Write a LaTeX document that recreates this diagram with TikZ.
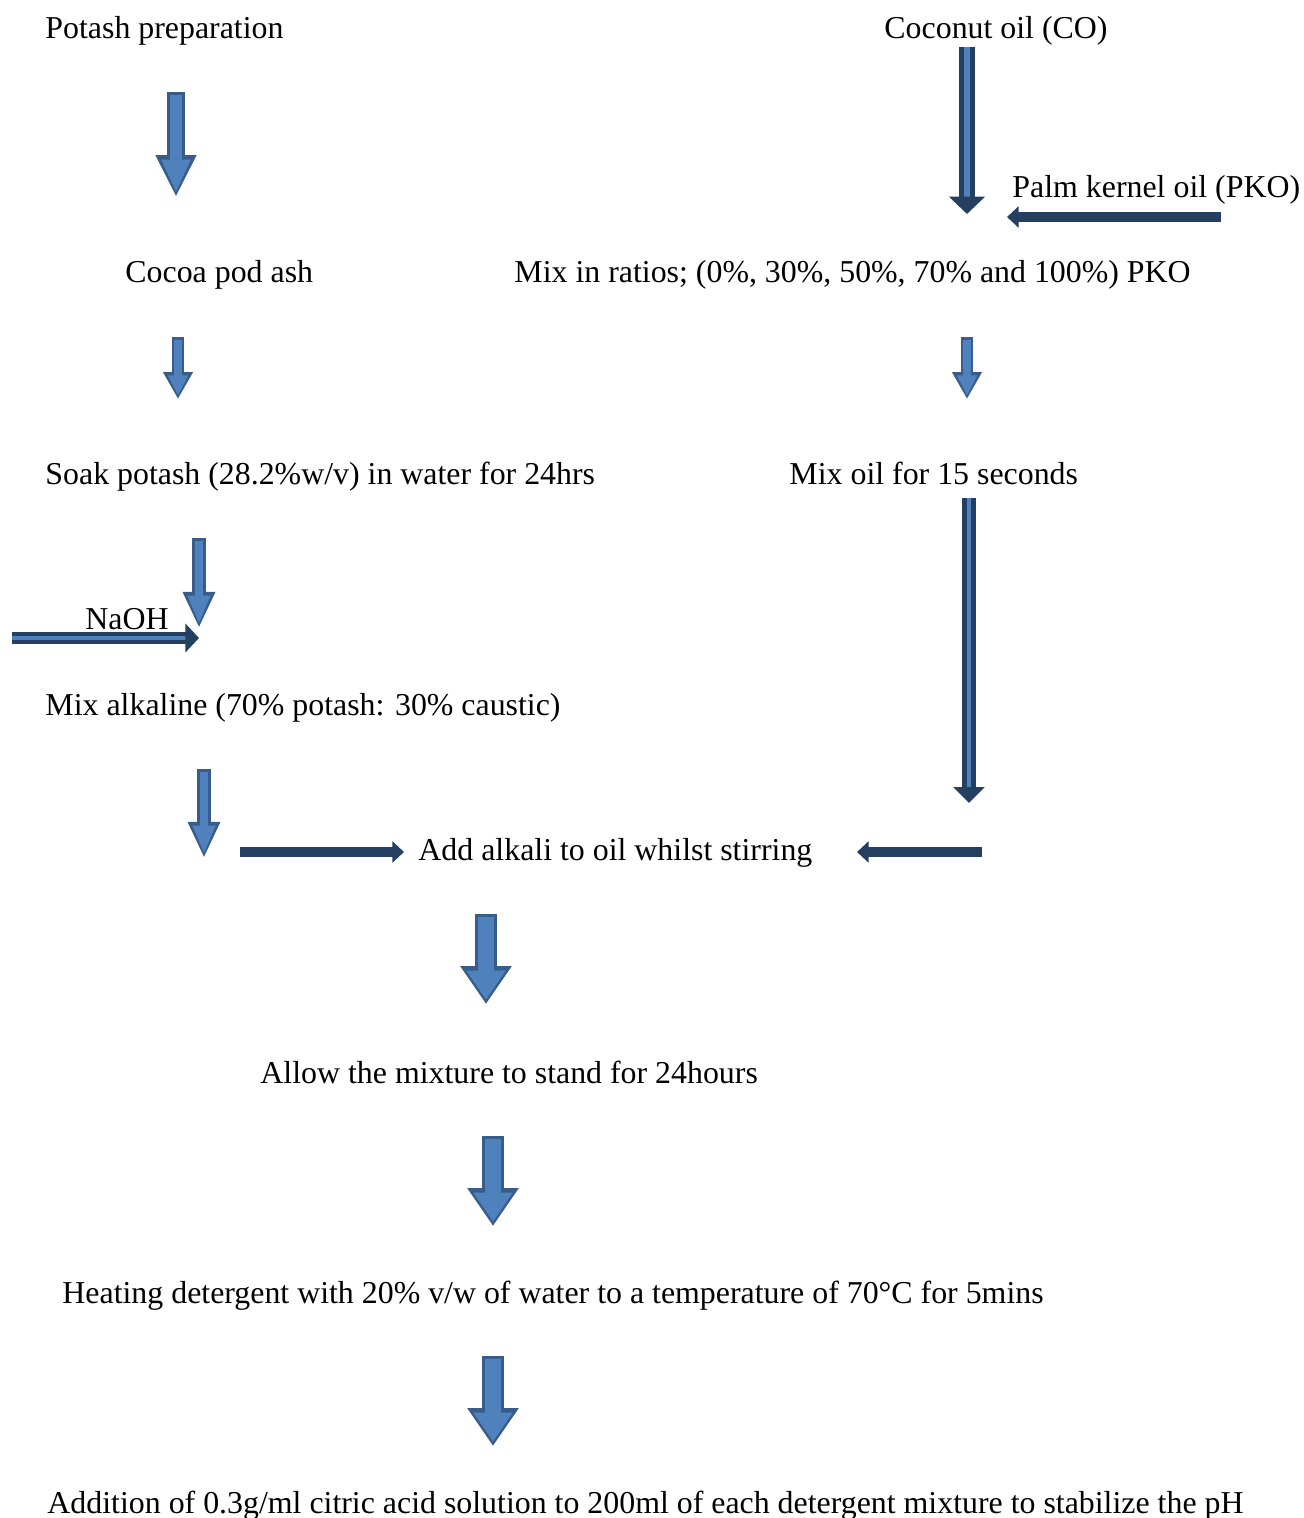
\documentclass[tikz,border=0pt]{standalone}
\usepackage{fontspec}
\setmainfont{Liberation Serif}
\usetikzlibrary{arrows.meta}
\definecolor{blkfill}{RGB}{79,129,189}
\definecolor{blkedge}{RGB}{56,93,138}
\definecolor{navy}{RGB}{36,63,96}
\tikzstyle{lbl}=[anchor=west, inner sep=0pt, font=\fontsize{13.6}{16}\selectfont,
  text height=1.6ex, text depth=0.45ex]
\tikzstyle{bigblk}=[draw=blkedge, line width=9.4pt, -{Triangle[length=16.2pt, width=20.9pt]},
  postaction={draw=blkfill, line width=6.8pt, shorten >=1.8pt, shorten <=1.3pt,
  -{Triangle[length=12.4pt, width=15.8pt]}}]
\tikzstyle{topblk}=[draw=blkedge, line width=8.1pt, -{Triangle[length=17.9pt, width=16.2pt]},
  postaction={draw=blkfill, line width=5.5pt, shorten >=1.8pt, shorten <=1.3pt,
  -{Triangle[length=14.1pt, width=11.4pt]}}]
\tikzstyle{midblk}=[draw=blkedge, line width=6pt, -{Triangle[length=15.4pt, width=12.8pt]},
  postaction={draw=blkfill, line width=3.8pt, shorten >=1.6pt, shorten <=1.1pt,
  -{Triangle[length=12.2pt, width=8.8pt]}}]
\tikzstyle{smallblk}=[draw=blkedge, line width=5.5pt, -{Triangle[length=11.5pt, width=12pt]},
  postaction={draw=blkfill, line width=3.4pt, shorten >=1.4pt, shorten <=1.1pt,
  -{Triangle[length=8.7pt, width=8pt]}}]
\tikzstyle{navydbl}=[draw=navy, double=blkfill, line width=2.2pt, double distance=1.3pt,
  -{Triangle[length=6.8pt, width=13pt]}]
\tikzstyle{navyarr}=[draw=navy, line width=4.5pt, -{Triangle[length=5pt, width=9pt]}]

\begin{document}
\begin{tikzpicture}[x=0.015cm, y=-0.015cm]
  \useasboundingbox (0,0) rectangle (1304,1518);
  % texts
  \node[lbl] (potash) at (45,32) {Potash preparation};
  \node[lbl] (coco) at (884,32) {Coconut oil (CO)};
  \node[lbl] (pko) at (1012,191) {Palm kernel oil (PKO)};
  \node[lbl] (ash) at (125,276) {Cocoa pod ash};
  \node[lbl] (ratio) at (514,276) {Mix in ratios; (0\%, 30\%, 50\%, 70\% and 100\%) PKO};
  \node[lbl] (soak) at (45,478) {Soak potash (28.2\%w/v) in water for 24hrs};
  \node[lbl] (mixoil) at (789,478) {Mix oil for 15 seconds};
  \node[lbl] (naoh) at (85,623) {NaOH};
  \node[lbl] (alk) at (45,709) {Mix alkaline (70\% potash: 30\% caustic)};
  \node[lbl] (stir) at (418,854) {Add alkali to oil whilst stirring};
  \node[lbl] (stand) at (260,1077) {Allow the mixture to stand for 24hours};
  \node[lbl] (heat) at (62,1297) {Heating detergent with 20\% v/w of water to a temperature of 70°C for 5mins};
  \node[lbl] (citric) at (47,1507) {Addition of 0.3g/ml citric acid solution to 200ml of each detergent mixture to stabilize the pH};
  % arrow ends
  \coordinate (potA) at (176,92);   \coordinate (potB) at (176,197);
  \coordinate (coA) at (967,47);    \coordinate (coB) at (967,214);
  \coordinate (pkoA) at (1221,217); \coordinate (pkoB) at (1007,217);
  \coordinate (ashA) at (178,337);  \coordinate (ashB) at (178,399);
  \coordinate (ratA) at (967,337);  \coordinate (ratB) at (967,399);
  \coordinate (soakA) at (199,538); \coordinate (soakB) at (199,628);
  \coordinate (naohA) at (12,638);  \coordinate (naohB) at (199,638);
  \coordinate (oilA) at (969,498);  \coordinate (oilB) at (969,803);
  \coordinate (alkA) at (204,769);  \coordinate (alkB) at (204,858);
  \coordinate (lftA) at (240,852);  \coordinate (lftB) at (404,852);
  \coordinate (rgtA) at (982,852);  \coordinate (rgtB) at (857,852);
  \coordinate (stirA) at (486,914); \coordinate (stirB) at (486,1004);
  \coordinate (standA) at (493,1136); \coordinate (standB) at (493,1226);
  \coordinate (heatA) at (493,1356);  \coordinate (heatB) at (493,1446);
  % arrows
  \draw[topblk] (potA)--(potB);
  \draw[navydbl, line width=2.1pt, double distance=2.6pt,
    -{Triangle[length=7.4pt, width=15pt]}] (coA)--(coB);
  \draw[navyarr] (pkoA)--(pkoB);
  \draw[smallblk] (ashA)--(ashB);
  \draw[smallblk] (ratA)--(ratB);
  \draw[midblk] (soakA)--(soakB);
  \draw[navydbl, line width=2.1pt, -{Triangle[length=5.8pt, width=12pt]}] (naohA)--(naohB);
  \draw[navydbl] (oilA)--(oilB);
  \draw[midblk] (alkA)--(alkB);
  \draw[navyarr] (lftA)--(lftB);
  \draw[navyarr] (rgtA)--(rgtB);
  \draw[bigblk] (stirA)--(stirB);
  \draw[bigblk] (standA)--(standB);
  \draw[bigblk] (heatA)--(heatB);
\end{tikzpicture}
\end{document}
